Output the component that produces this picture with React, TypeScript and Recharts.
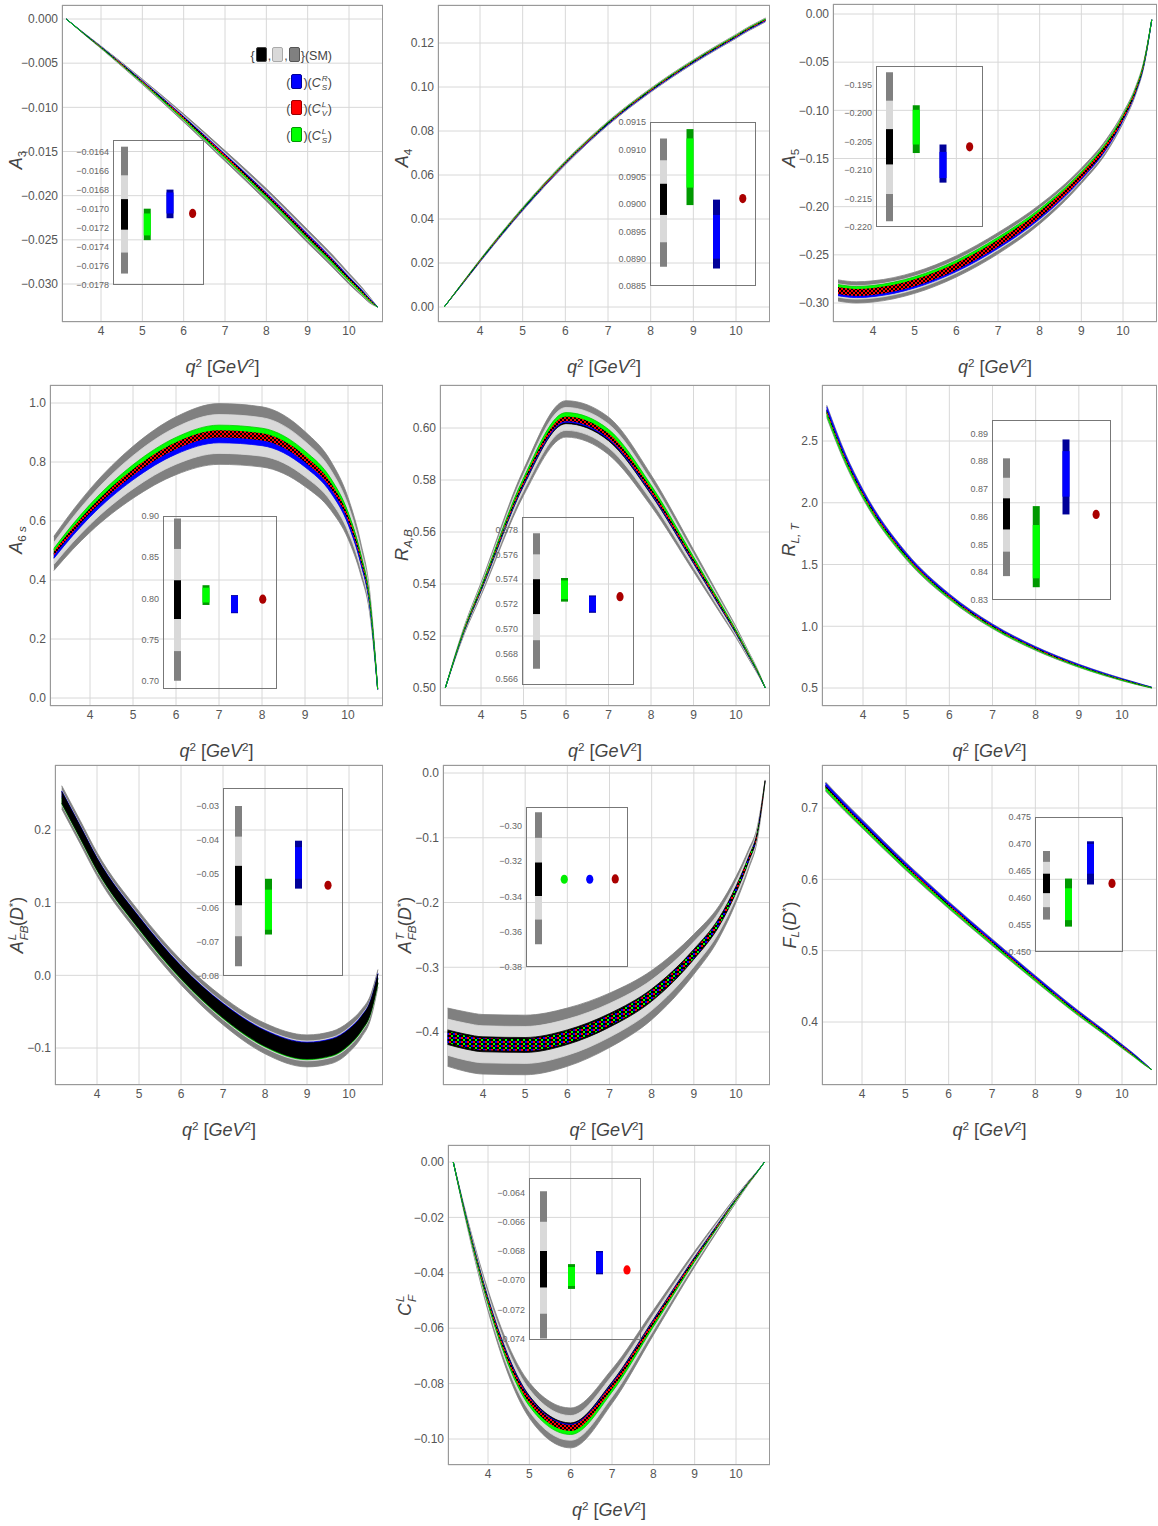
import React from 'react';
import { ComposedChart, Area, Bar, Scatter, Cell, XAxis, YAxis, CartesianGrid } from 'recharts';

const FONT = '"Liberation Sans", Arial, sans-serif';

// q^2 grid (GeV^2) shared by all panels
const Q2 = [3.16, 3.6, 4, 5, 6, 7, 8, 9, 9.6, 10, 10.3, 10.5, 10.69];
const X_TICKS = [4, 5, 6, 7, 8, 9, 10];

// central SM value and outer (gray) half width
const A3_MID = [0, -0.0017, -0.0032, -0.0071, -0.0112, -0.0155, -0.0199, -0.0246, -0.0274, -0.0294, -0.0308, -0.0318, -0.0326];
const A3_ERR = [0, 0.00008, 0.00014, 0.0003, 0.00046, 0.0006, 0.0007, 0.00075, 0.0007, 0.00062, 0.0005, 0.00035, 0];
const A4_MID = [0, 0.011, 0.021, 0.0445, 0.0655, 0.0835, 0.0985, 0.1115, 0.1185, 0.123, 0.1265, 0.1285, 0.1305];
const A4_ERR = [0, 0.0004, 0.0006, 0.0008, 0.0009, 0.0009, 0.0009, 0.0009, 0.0009, 0.0009, 0.0009, 0.0009, 0.0009];
const A5_MID = [-0.287, -0.289, -0.288, -0.279, -0.262, -0.238, -0.208, -0.168, -0.137, -0.108, -0.08, -0.052, -0.006];
const A5_ERR = [0.011, 0.011, 0.011, 0.011, 0.011, 0.011, 0.01, 0.008, 0.007, 0.0055, 0.0042, 0.003, 0];
const A6_MID = [0.49, 0.57, 0.635, 0.765, 0.855, 0.895, 0.885, 0.81, 0.72, 0.61, 0.47, 0.33, 0.03];
const A6_ERR = [0.058, 0.066, 0.073, 0.088, 0.098, 0.103, 0.102, 0.093, 0.083, 0.07, 0.054, 0.038, 0.003];
const RAB_MID = [0.5, 0.522, 0.538, 0.579, 0.6035, 0.597, 0.576, 0.549, 0.5325, 0.5215, 0.5125, 0.5065, 0.5];
const RAB_ERR = [0, 0.0015, 0.0025, 0.005, 0.007, 0.0072, 0.006, 0.0042, 0.003, 0.0021, 0.0014, 0.0009, 0];
const RLT_MID = [2.74, 2.35, 2.07, 1.57, 1.24, 1.0, 0.82, 0.68, 0.61, 0.568, 0.539, 0.52, 0.503];
const RLT_ERR = [0.05, 0.043, 0.038, 0.029, 0.023, 0.019, 0.016, 0.013, 0.011, 0.0095, 0.008, 0.006, 0.004];
const AFL_MID = [0.245, 0.197, 0.153, 0.072, 0.004, -0.049, -0.087, -0.104, -0.099, -0.085, -0.066, -0.046, -0.004];
const AFL_ERR = [0.016, 0.016, 0.016, 0.016, 0.017, 0.019, 0.021, 0.022, 0.022, 0.021, 0.019, 0.017, 0.012];
const AFT_MID = [-0.408, -0.415, -0.419, -0.42, -0.408, -0.382, -0.343, -0.28, -0.23, -0.18, -0.133, -0.095, -0.012];
const AFT_ERR = [0.045, 0.046, 0.046, 0.046, 0.045, 0.042, 0.038, 0.031, 0.025, 0.02, 0.015, 0.0105, 0.0013];
const FL_MID = [0.73, 0.702, 0.678, 0.619, 0.564, 0.512, 0.461, 0.412, 0.385, 0.366, 0.352, 0.342, 0.333];
const FL_ERR = [0.0065, 0.0063, 0.0061, 0.0056, 0.0051, 0.0046, 0.0041, 0.0036, 0.0032, 0.0028, 0.0022, 0.0016, 0];
const CF_MID = [0, -0.028, -0.05, -0.086, -0.096, -0.081, -0.058, -0.035, -0.022, -0.0135, -0.0075, -0.0038, 0];
const CF_ERR = [0, 0.0021, 0.0037, 0.0064, 0.0072, 0.0062, 0.0045, 0.0028, 0.0018, 0.0011, 0.0006, 0.0003, 0];

// band shape relative to the gray half width:
// [light gray, black, blue shift, blue width, green shift, green width, red width]
const A3_BANDS = [0.6, 0.24, 0.1, 0.23, -0.23, 0.25, 0.2];
const A4_BANDS = [0.64, 0.3, -0.25, 0.25, 0.25, 0.25, 0.25];
const A5_BANDS = [0.63, 0.3, -0.23, 0.26, 0.24, 0.32, 0.33];
const A6_BANDS = [0.64, 0.24, -0.15, 0.14, 0.15, 0.14, 0.12];
const RAB_BANDS = [0.63, 0.26, -0.05, 0.13, 0.165, 0.18, 0.13];
const RLT_BANDS = [0.63, 0.26, 0.45, 0.3, -0.4, 0.3, 0.2];
const AFL_BANDS = [0.62, 0.5, 0.3, 0.25, -0.3, 0.25, 0.2];
const AFT_BANDS = [0.62, 0.25, 0, 0, 0, 0, 0.2];
const FL_BANDS = [0.66, 0.28, 0.45, 0.3, -0.42, 0.32, 0.2];
const CF_BANDS = [0.62, 0.25, 0.02, 0.16, -0.16, 0.17, 0.15];

// y ticks of main panels
const A3_YT = [-0.03, -0.025, -0.02, -0.015, -0.01, -0.005, 0];
const A4_YT = [0, 0.02, 0.04, 0.06, 0.08, 0.1, 0.12];
const A5_YT = [-0.3, -0.25, -0.2, -0.15, -0.1, -0.05, 0];
const A6_YT = [0, 0.2, 0.4, 0.6, 0.8, 1.0];
const RAB_YT = [0.5, 0.52, 0.54, 0.56, 0.58, 0.6];
const RLT_YT = [0.5, 1, 1.5, 2, 2.5];
const AFL_YT = [-0.1, 0, 0.1, 0.2];
const AFT_YT = [-0.4, -0.3, -0.2, -0.1, 0];
const FL_YT = [0.4, 0.5, 0.6, 0.7];
const CF_YT = [-0.1, -0.08, -0.06, -0.04, -0.02, 0];

// insets: SM [outer, middle, inner], green [outer, inner], blue [outer, inner], red dot
const A3_SM = [[-0.01768, -0.01635], [-0.01746, -0.01665], [-0.01722, -0.0169]];
const A3_G = [[-0.01733, -0.017], [-0.01728, -0.01705]];
const A3_B = [[-0.0171, -0.0168], [-0.01705, -0.01683]];
const A3_DOT = -0.01705;
const A4_SM = [[0.08885, 0.0912], [0.0893, 0.0908], [0.0898, 0.09037]];
const A4_G = [[0.08998, 0.09137], [0.0903, 0.0912]];
const A4_B = [[0.08882, 0.09008], [0.089, 0.0898]];
const A4_DOT = 0.0901;
const A5_SM = [[-0.219, -0.1928], [-0.2142, -0.1978], [-0.209, -0.2028]];
const A5_G = [[-0.207, -0.1986], [-0.2055, -0.1994]];
const A5_B = [[-0.2122, -0.2055], [-0.2114, -0.2068]];
const A5_DOT = -0.2059;
const A6_SM = [[0.7, 0.897], [0.736, 0.86], [0.775, 0.822]];
const A6_G = [[0.792, 0.816], [0.795, 0.813]];
const A6_B = [[0.782, 0.804], [0.783, 0.803]];
const A6_DOT = 0.799;
const RAB_SM = [[0.5668, 0.5777], [0.5691, 0.576], [0.5712, 0.574]];
const RAB_G = [[0.5722, 0.5741], [0.5724, 0.5739]];
const RAB_B = [[0.5713, 0.5727], [0.5714, 0.5726]];
const RAB_DOT = 0.5726;
const RLT_SM = [[0.8386, 0.881], [0.8474, 0.874], [0.8554, 0.8666]];
const RLT_G = [[0.8346, 0.8638], [0.8378, 0.857]];
const RLT_B = [[0.8608, 0.8878], [0.8672, 0.8836]];
const RLT_DOT = 0.8608;
const AFL_SM = [[-0.0771, -0.03], [-0.0683, -0.039], [-0.0592, -0.0476]];
const AFL_G = [[-0.0678, -0.0514], [-0.0664, -0.0546]];
const AFL_B = [[-0.0543, -0.0402], [-0.0514, -0.0421]];
const AFL_DOT = -0.0533;
const AFT_SM = [[-0.3671, -0.2922], [-0.3531, -0.3067], [-0.3397, -0.3207]];
const AFT_G_DOT = -0.3302;
const AFT_B_DOT = -0.3302;
const AFT_DOT = -0.33;
const FL_SM = [[0.456, 0.4687], [0.4583, 0.4667], [0.4609, 0.4645]];
const FL_G = [[0.4547, 0.4636], [0.4559, 0.4618]];
const FL_B = [[0.4625, 0.4705], [0.4645, 0.47]];
const FL_DOT = 0.4627;
const CF_SM = [[-0.074, -0.0639], [-0.0723, -0.066], [-0.0705, -0.068]];
const CF_G = [[-0.0706, -0.0689], [-0.0704, -0.0691]];
const CF_B = [[-0.0696, -0.068], [-0.0695, -0.0681]];
const CF_DOT = -0.0693;

const A3_IT = [-0.0178, -0.0176, -0.0174, -0.0172, -0.017, -0.0168, -0.0166, -0.0164];
const A4_IT = [0.0885, 0.089, 0.0895, 0.09, 0.0905, 0.091, 0.0915];
const A5_IT = [-0.22, -0.215, -0.21, -0.205, -0.2, -0.195];
const A6_IT = [0.7, 0.75, 0.8, 0.85, 0.9];
const RAB_IT = [0.566, 0.568, 0.57, 0.572, 0.574, 0.576, 0.578];
const RLT_IT = [0.83, 0.84, 0.85, 0.86, 0.87, 0.88, 0.89];
const AFL_IT = [-0.08, -0.07, -0.06, -0.05, -0.04, -0.03];
const AFT_IT = [-0.38, -0.36, -0.34, -0.32, -0.3];
const FL_IT = [0.45, 0.455, 0.46, 0.465, 0.47, 0.475];
const CF_IT = [-0.074, -0.072, -0.07, -0.068, -0.066, -0.064];

const GRAY = '#808080';
const LIGHT = '#d9d9d9';
const BLUE = '#0000ff';
const DBLUE = '#000099';
const GREEN = '#00ff00';
const DGREEN = '#009900';
const DRED = '#aa0000';

const fmt = (dec: number) => (v: number) => v.toFixed(dec).replace('-', '\u2212');

const Sub = ({ children }: { children: React.ReactNode }) => (
  <sub style={{ fontSize: '0.65em', verticalAlign: '-0.3em' }}>{children}</sub>
);
const Sup = ({ children }: { children: React.ReactNode }) => (
  <sup style={{ fontSize: '0.65em', verticalAlign: '0.5em' }}>{children}</sup>
);
// stacked super- and subscript
const SS = ({ sup, sub, w = 0.8 }: { sup: React.ReactNode; sub: React.ReactNode; w?: number }) => (
  <span style={{ position: 'relative', display: 'inline-block', fontSize: '0.65em', width: `${w}em`, height: '1em', marginLeft: 1 }}>
    <span style={{ position: 'absolute', left: 0, top: '-0.45em', lineHeight: 1 }}>{sup}</span>
    <span style={{ position: 'absolute', left: 0, top: '0.6em', lineHeight: 1 }}>{sub}</span>
  </span>
);

type Panel = {
  mid: number[]; err: number[]; bands: number[]; yt: number[]; dec: number;
  L: number; R: number; T: number; B: number; x4: number; x10: number;
  ya: number[]; yb: number[];
  label: React.ReactNode; lx: number; ly: number;
  order: string[]; pat: string;
  sm: number[][]; g?: number[][]; b?: number[][]; gDot?: number; bDot?: number; dot: number; dotColor: string;
  iL: number; iR: number; iT: number; iB: number; id: number[]; it: number[]; idec: number;
};

const ORDER = ['o', 'l', 'k', 'b', 'g', 'r'];

const PANELS: Panel[] = [
  { mid: A3_MID, err: A3_ERR, bands: A3_BANDS, yt: A3_YT, dec: 3, L: 62, R: 383, T: 5, B: 322, x4: 101, x10: 349,
    ya: [-0.03, 284], yb: [0, 19], label: <><i>A</i><Sub>3</Sub></>, lx: 17, ly: 160, order: ORDER, pat: 'chkR',
    sm: A3_SM, g: A3_G, b: A3_B, dot: A3_DOT, dotColor: DRED, iL: 113, iR: 204, iT: 140, iB: 285, id: [-0.0178, -0.01628], it: A3_IT, idec: 4 },
  { mid: A4_MID, err: A4_ERR, bands: A4_BANDS, yt: A4_YT, dec: 2, L: 438, R: 770, T: 5, B: 322, x4: 480, x10: 736,
    ya: [0, 307], yb: [0.12, 43], label: <><i>A</i><Sub>4</Sub></>, lx: 403, ly: 158, order: ORDER, pat: 'chkR',
    sm: A4_SM, g: A4_G, b: A4_B, dot: A4_DOT, dotColor: DRED, iL: 650, iR: 756, iT: 122, iB: 286, id: [0.0885, 0.0915], it: A4_IT, idec: 4 },
  { mid: A5_MID, err: A5_ERR, bands: A5_BANDS, yt: A5_YT, dec: 2, L: 833, R: 1157, T: 4, B: 322, x4: 873, x10: 1123,
    ya: [-0.3, 303], yb: [0, 14], label: <><i>A</i><Sub>5</Sub></>, lx: 790, ly: 158, order: ORDER, pat: 'chkR',
    sm: A5_SM, g: A5_G, b: A5_B, dot: A5_DOT, dotColor: DRED, iL: 876, iR: 983, iT: 66, iB: 227, id: [-0.22, -0.1917], it: A5_IT, idec: 3 },
  { mid: A6_MID, err: A6_ERR, bands: A6_BANDS, yt: A6_YT, dec: 1, L: 50, R: 383, T: 385, B: 706, x4: 90, x10: 348,
    ya: [0, 698], yb: [1, 403], label: <><i>A</i><Sub>6 <i>s</i></Sub></>, lx: 17, ly: 540, order: ORDER, pat: 'chkR',
    sm: A6_SM, g: A6_G, b: A6_B, dot: A6_DOT, dotColor: DRED, iL: 163, iR: 277, iT: 516, iB: 689, id: [0.69, 0.9], it: A6_IT, idec: 2 },
  { mid: RAB_MID, err: RAB_ERR, bands: RAB_BANDS, yt: RAB_YT, dec: 2, L: 440, R: 770, T: 385, B: 706, x4: 481, x10: 736,
    ya: [0.5, 688], yb: [0.6, 428], label: <><i>R</i><Sub><i>A,B</i></Sub></>, lx: 403, ly: 545, order: ORDER, pat: 'chkR',
    sm: RAB_SM, g: RAB_G, b: RAB_B, dot: RAB_DOT, dotColor: DRED, iL: 522, iR: 634, iT: 517, iB: 685, id: [0.5655, 0.579], it: RAB_IT, idec: 3 },
  { mid: RLT_MID, err: RLT_ERR, bands: RLT_BANDS, yt: RLT_YT, dec: 1, L: 822, R: 1157, T: 385, B: 706, x4: 863, x10: 1122,
    ya: [0.5, 688], yb: [2.5, 441], label: <><i>R</i><Sub><i>L, T</i></Sub></>, lx: 790, ly: 540, order: ORDER, pat: 'chkR',
    sm: RLT_SM, g: RLT_G, b: RLT_B, dot: RLT_DOT, dotColor: DRED, iL: 992, iR: 1111, iT: 420, iB: 600, id: [0.83, 0.8948], it: RLT_IT, idec: 2 },
  { mid: AFL_MID, err: AFL_ERR, bands: AFL_BANDS, yt: AFL_YT, dec: 1, L: 55, R: 383, T: 765, B: 1085, x4: 97, x10: 349,
    ya: [-0.1, 1048], yb: [0.2, 830], label: <><i>A</i><SS sup={<i>L</i>} sub={<i>FB</i>} w={1.2} />(<i>D</i><Sup>*</Sup>)</>, lx: 17, ly: 925,
    order: ['o', 'l', 'b', 'g', 'k'], pat: 'chkR',
    sm: AFL_SM, g: AFL_G, b: AFL_B, dot: AFL_DOT, dotColor: DRED, iL: 223, iR: 343, iT: 788, iB: 976, id: [-0.08, -0.0247], it: AFL_IT, idec: 2 },
  { mid: AFT_MID, err: AFT_ERR, bands: AFT_BANDS, yt: AFT_YT, dec: 1, L: 443, R: 770, T: 765, B: 1085, x4: 483, x10: 736,
    ya: [-0.4, 1032], yb: [0, 773], label: <><i>A</i><SS sup={<i>T</i>} sub={<i>FB</i>} w={1.2} />(<i>D</i><Sup>*</Sup>)</>, lx: 405, ly: 925,
    order: ['o', 'l', 'k', 'r'], pat: 'chkRGB',
    sm: AFT_SM, gDot: AFT_G_DOT, bDot: AFT_B_DOT, dot: AFT_DOT, dotColor: DRED, iL: 526, iR: 628, iT: 807, iB: 967, id: [-0.38, -0.2892], it: AFT_IT, idec: 2 },
  { mid: FL_MID, err: FL_ERR, bands: FL_BANDS, yt: FL_YT, dec: 1, L: 822, R: 1157, T: 765, B: 1085, x4: 862, x10: 1122,
    ya: [0.4, 1022], yb: [0.7, 808], label: <><i>F</i><Sub><i>L</i></Sub>(<i>D</i><Sup>*</Sup>)</>, lx: 790, ly: 925, order: ORDER, pat: 'chkR',
    sm: FL_SM, g: FL_G, b: FL_B, dot: FL_DOT, dotColor: DRED, iL: 1035, iR: 1123, iT: 817, iB: 952, id: [0.45, 0.475], it: FL_IT, idec: 3 },
  { mid: CF_MID, err: CF_ERR, bands: CF_BANDS, yt: CF_YT, dec: 2, L: 448, R: 770, T: 1145, B: 1465, x4: 488, x10: 736,
    ya: [-0.1, 1439], yb: [0, 1162], label: <><i>C</i><SS sup={<i>L</i>} sub={<i>F</i>} w={0.7} /></>, lx: 405, ly: 1305, order: ORDER, pat: 'chkR',
    sm: CF_SM, g: CF_G, b: CF_B, dot: CF_DOT, dotColor: '#ff0000', iL: 529, iR: 641, iT: 1178, iB: 1340, id: [-0.0741, -0.063], it: CF_IT, idec: 3 },
];

const AREA_STYLE: Record<string, { fill: string; stroke: string }> = {
  o: { fill: GRAY, stroke: GRAY },
  l: { fill: LIGHT, stroke: LIGHT },
  k: { fill: '#000', stroke: '#000' },
  b: { fill: BLUE, stroke: BLUE },
  g: { fill: GREEN, stroke: '#00cc00' },
  r: { fill: '', stroke: 'none' },
};

function MainPlot({ p }: { p: Panel }) {
  const YW = 60;
  const XH = 28;
  const PAD = 8;
  const sx = (p.x10 - p.x4) / 6;
  const xd = [4 - (p.x4 - p.L) / sx, 10 + (p.R - p.x10) / sx];
  const sy = (p.ya[1] - p.yb[1]) / (p.yb[0] - p.ya[0]);
  const yd = [p.ya[0] - (p.B - p.ya[1]) / sy, p.yb[0] + (p.yb[1] - p.T) / sy];
  const [lr, kr, bs, bw, gs, gw, rw] = p.bands;
  const rows = Q2.map((q, i) => {
    const m = p.mid[i];
    const w = p.err[i];
    return {
      q,
      o: [m - w, m + w],
      l: [m - lr * w, m + lr * w],
      k: [m - kr * w, m + kr * w],
      b: [m + (bs - bw) * w, m + (bs + bw) * w],
      g: [m + (gs - gw) * w, m + (gs + gw) * w],
      r: [m - rw * w, m + rw * w],
    };
  });
  const tick = { fontSize: 12, fill: '#555', fontFamily: FONT };
  return (
    <div style={{ position: 'absolute', left: p.L - YW, top: p.T - PAD }}>
      <ComposedChart width={p.R - p.L + YW} height={p.B - p.T + XH + PAD} data={rows} margin={{ top: PAD, right: 0, bottom: 0, left: 0 }}>
        <defs>
          <pattern id="chkR" width="4" height="4" patternUnits="userSpaceOnUse">
            <rect width="4" height="4" fill="#000" />
            <rect width="2" height="2" fill="#ff0000" />
            <rect x="2" y="2" width="2" height="2" fill="#ff0000" />
          </pattern>
          <pattern id="chkRGB" width="6" height="4" patternUnits="userSpaceOnUse">
            <rect width="6" height="4" fill="#000" />
            <rect width="2" height="2" fill="#ff0000" />
            <rect x="2" y="2" width="2" height="2" fill="#00ff00" />
            <rect x="4" width="2" height="2" fill="#0000ff" />
          </pattern>
        </defs>
        <CartesianGrid stroke="#d8d8d8" />
        <XAxis type="number" dataKey="q" domain={xd} ticks={X_TICKS} allowDataOverflow height={XH} interval={0}
          axisLine={false} tickLine={false} tickSize={2} tick={tick} />
        <YAxis type="number" domain={yd} ticks={p.yt} allowDataOverflow width={YW} interval={0}
          axisLine={false} tickLine={false} tickSize={2} tick={tick} tickFormatter={fmt(p.dec)} />
        {p.order.map((k) => (
          <Area key={k} type="monotone" dataKey={k} isAnimationActive={false} dot={false} activeDot={false}
            fill={k === 'r' ? `url(#${p.pat})` : AREA_STYLE[k].fill} fillOpacity={1}
            stroke={AREA_STYLE[k].stroke} strokeWidth={0.8} />
        ))}
      </ComposedChart>
    </div>
  );
}

function Ellipse(props: any) {
  const { cx, cy, payload } = props;
  if (!Number.isFinite(cx) || !Number.isFinite(cy) || payload.dot == null) return <g />;
  return <ellipse cx={cx} cy={cy} rx={3.6} ry={4.6} fill={payload.c} />;
}

function Inset({ p }: { p: Panel }) {
  const YW = 42;
  const BW = 7;
  const PAD = 8;
  const rows = [
    { n: 'sm', o: p.sm[0], m: p.sm[1], k: p.sm[2] },
    { n: 'g', o: p.g ? p.g[0] : undefined, m: p.g ? p.g[1] : undefined, dot: p.gDot, c: '#00ee00' },
    { n: 'b', o: p.b ? p.b[0] : undefined, m: p.b ? p.b[1] : undefined, dot: p.bDot, c: BLUE },
    { n: 'r', dot: p.dot, c: p.dotColor },
  ];
  const outC = [GRAY, DGREEN, DBLUE, 'none'];
  const midC = [LIGHT, GREEN, BLUE, 'none'];
  return (
    <div style={{ position: 'absolute', left: p.iL - YW, top: p.iT - PAD }}>
      <ComposedChart width={p.iR - p.iL + YW} height={p.iB - p.iT + 2 * PAD} data={rows} barGap={-BW}
        margin={{ top: PAD, right: 0, bottom: PAD, left: 0 }}>
        <XAxis dataKey="n" type="category" hide />
        <YAxis type="number" domain={p.id} ticks={p.it} allowDataOverflow width={YW} axisLine={false} interval={0}
          tickLine={false} tickSize={2} tickFormatter={fmt(p.idec)}
          tick={{ fontSize: 9, fill: '#666', fontFamily: FONT }} />
        <Bar dataKey="o" barSize={BW} isAnimationActive={false}>
          {rows.map((_, i) => <Cell key={i} fill={outC[i]} />)}
        </Bar>
        <Bar dataKey="m" barSize={BW} isAnimationActive={false}>
          {rows.map((_, i) => <Cell key={i} fill={midC[i]} />)}
        </Bar>
        <Bar dataKey="k" barSize={BW} fill="#000" isAnimationActive={false} />
        <Scatter dataKey="dot" isAnimationActive={false} shape={Ellipse} />
      </ComposedChart>
    </div>
  );
}

const Swatch = ({ c, b }: { c: string; b: string }) => (
  <span style={{ display: 'inline-block', width: 9, height: 13, background: c, border: `1px solid ${b}`, borderRadius: 2, verticalAlign: '-2px', margin: '0 1px' }} />
);

function Legend() {
  const row: React.CSSProperties = { height: 26.5, display: 'flex', justifyContent: 'flex-end', alignItems: 'center', whiteSpace: 'nowrap' };
  return (
    <div style={{ position: 'absolute', left: 230, top: 42, width: 102, fontFamily: FONT, fontSize: 12.5, color: '#444' }}>
      <div style={row}>
        <span>{'{'}<Swatch c="#000" b="#444" />,<Swatch c={LIGHT} b="#aaa" />,<Swatch c={GRAY} b="#555" />{'}'}(SM)</span>
      </div>
      <div style={row}><span>(<Swatch c={BLUE} b={DBLUE} />)(<i>C</i><SS sup={<i>R</i>} sub={<i>S</i>} w={0.75} />)</span></div>
      <div style={row}><span>(<Swatch c="#ff0000" b="#900" />)(<i>C</i><SS sup={<i>L</i>} sub={<i>V</i>} w={0.75} />)</span></div>
      <div style={row}><span>(<Swatch c={GREEN} b={DGREEN} />)(<i>C</i><SS sup={<i>L</i>} sub={<i>S</i>} w={0.75} />)</span></div>
    </div>
  );
}

const XLabel = () => (
  <span><i>q</i><Sup>2</Sup> [<i>GeV</i><Sup>2</Sup>]</span>
);

export default function App() {
  return (
    <div style={{ position: 'absolute', left: 0, top: 0, width: 1158, height: 1526, background: '#fff', overflow: 'hidden', fontFamily: FONT }}>
      {PANELS.map((p, i) => (
        <React.Fragment key={i}>
          <MainPlot p={p} />
          <Inset p={p} />
          <div style={{ position: 'absolute', left: p.L, top: p.T, width: p.R - p.L, height: p.B - p.T, border: '1px solid #999', boxSizing: 'border-box', pointerEvents: 'none' }} />
          <div style={{ position: 'absolute', left: p.iL, top: p.iT, width: p.iR - p.iL, height: p.iB - p.iT, border: '1px solid #777', boxSizing: 'border-box', pointerEvents: 'none' }} />
          <div style={{ position: 'absolute', left: p.lx, top: p.ly, transform: 'translate(-50%, -50%) rotate(-90deg)', whiteSpace: 'nowrap', fontSize: 18, color: '#444' }}>
            {p.label}
          </div>
          <div style={{ position: 'absolute', left: (p.L + p.R) / 2, top: p.B + 45, transform: 'translate(-50%, -50%)', whiteSpace: 'nowrap', fontSize: 18, color: '#444' }}>
            <XLabel />
          </div>
        </React.Fragment>
      ))}
      <Legend />
    </div>
  );
}
